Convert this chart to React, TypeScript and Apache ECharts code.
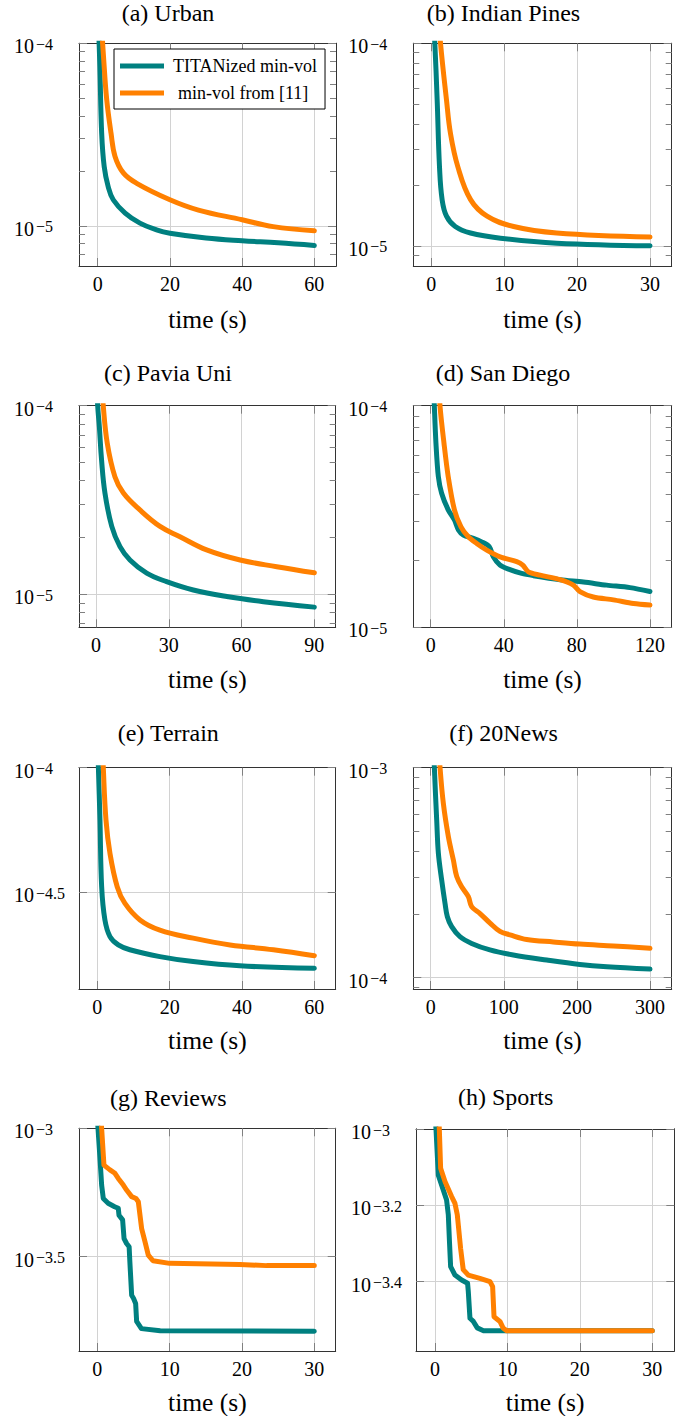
import React, { useEffect, useRef } from 'react';
import * as echarts from 'echarts';

const NAME_A = 'TITANized min-vol';
const NAME_B = 'min-vol from [11]';
const TEAL = '#008080';
const ORANGE = '#ff8000';
const FONT = 'Liberation Serif';

const titles = ['(a) Urban', '(b) Indian Pines', '(c) Pavia Uni', '(d) San Diego', '(e) Terrain', '(f) 20News', '(g) Reviews', '(h) Sports'];
const xLabel = 'time (s)';

// x tick labels per panel
const xTicksUrban = [0, 20, 40, 60];
const xTicksIndian = [0, 10, 20, 30];
const xTicksPavia = [0, 30, 60, 90];
const xTicksSanDiego = [0, 40, 80, 120];
const xTicksTerrain = [0, 20, 40, 60];
const xTicks20News = [0, 100, 200, 300];
const xTicksReviews = [0, 10, 20, 30];
const xTicksSports = [0, 10, 20, 30];

// y tick labels (exponents of 10) per panel
const yTicksUrban = [-5, -4];
const yTicksIndian = [-5, -4];
const yTicksPavia = [-5, -4];
const yTicksSanDiego = [-5, -4];
const yTicksTerrain = [-4.5, -4];
const yTicks20News = [-4, -3];
const yTicksReviews = [-3.5, -3];
const yTicksSports = [-3.4, -3.2, -3];

// series data: [time (s), objective value]
const urbanTeal = [[0.2, 1.3e-4], [0.6, 7.45e-5], [1.1, 3.21e-5], [1.8, 2.11e-5], [2.9, 1.64e-5], [4.3, 1.39e-5], [7.6, 1.175e-5], [11.7, 1.035e-5], [16.3, 9.5e-6], [20, 9.1e-6], [30, 8.57e-6], [40, 8.28e-6], [50, 8.07e-6], [60, 7.8e-6]];
const urbanOrange = [[1.0, 1.3e-4], [1.6, 8.5e-5], [2.5, 4.9e-5], [3.7, 3.21e-5], [4.8, 2.4e-5], [7.1, 1.95e-5], [10.8, 1.71e-5], [20, 1.39e-5], [27.9, 1.22e-5], [40, 1.08e-5], [48.6, 9.9e-6], [60, 9.4e-6]];

const indianTeal = [[0.3, 1.3e-4], [0.5, 1.0e-4], [0.82, 5.25e-5], [1.14, 2.46e-5], [1.5, 1.69e-5], [2.1, 1.4e-5], [3.3, 1.245e-5], [5.4, 1.156e-5], [9.5, 1.09e-5], [17.2, 1.03e-5], [30, 1.0e-5]];
const indianOrange = [[1.1, 1.3e-4], [1.28, 1.0e-4], [2.1, 5.25e-5], [2.64, 3.6e-5], [3.65, 2.46e-5], [5.4, 1.69e-5], [7.66, 1.4e-5], [11.3, 1.245e-5], [17.2, 1.156e-5], [30, 1.104e-5]];

const paviaTeal = [[0.4, 1.3e-4], [0.7, 1.0e-4], [1.4, 7.7e-5], [2.3, 5.15e-5], [3.7, 3.44e-5], [6.5, 2.29e-5], [9.9, 1.79e-5], [14, 1.52e-5], [20.9, 1.294e-5], [29.1, 1.167e-5], [40.1, 1.054e-5], [53.9, 9.73e-6], [69, 9.14e-6], [90, 8.55e-6]];
const paviaOrange = [[2.6, 1.3e-4], [3.0, 1.0e-4], [4.66, 6.31e-5], [7.8, 4.2e-5], [11.3, 3.44e-5], [18.1, 2.8e-5], [26.4, 2.29e-5], [34.6, 2.02e-5], [45.6, 1.72e-5], [59.4, 1.52e-5], [74.5, 1.4e-5], [90, 1.3e-5]];

const sanDiegoTeal = [[1.5, 1.3e-4], [2.0, 1.0e-4], [2.9, 6.76e-5], [4.2, 4.79e-5], [6.0, 4.03e-5], [9.6, 3.39e-5], [13, 3.05e-5], [15.2, 2.75e-5], [17.9, 2.61e-5], [23.4, 2.52e-5], [27.9, 2.43e-5], [32.1, 2.31e-5], [34.3, 2.08e-5], [37.9, 1.91e-5], [43.4, 1.82e-5], [49.8, 1.75e-5], [56.2, 1.71e-5], [70.8, 1.64e-5], [83.6, 1.6e-5], [96.3, 1.55e-5], [109.1, 1.51e-5], [120, 1.45e-5]];
const sanDiegoOrange = [[4.6, 1.3e-4], [5.1, 1.0e-4], [7.3, 6.76e-5], [9.6, 4.79e-5], [13, 3.39e-5], [16.6, 2.84e-5], [20.6, 2.56e-5], [25.2, 2.39e-5], [30.7, 2.23e-5], [38, 2.08e-5], [47.1, 1.98e-5], [50.4, 1.91e-5], [53.5, 1.78e-5], [59.9, 1.72e-5], [70.8, 1.64e-5], [78.1, 1.55e-5], [81.7, 1.45e-5], [89, 1.37e-5], [100, 1.33e-5], [111, 1.28e-5], [120, 1.26e-5]];

const terrainTeal = [[0.1, 1.3e-4], [0.3, 1.0e-4], [0.74, 6.17e-5], [1.2, 3.33e-5], [2.1, 2.45e-5], [3.5, 2.1e-5], [5.8, 1.945e-5], [9, 1.86e-5], [17.3, 1.746e-5], [26.5, 1.667e-5], [39.4, 1.603e-5], [60, 1.567e-5]];
const terrainOrange = [[1.4, 1.3e-4], [1.66, 1.0e-4], [2.4, 6.17e-5], [3.5, 4.53e-5], [5.5, 3.33e-5], [7.6, 2.86e-5], [11.8, 2.45e-5], [17.3, 2.23e-5], [26.5, 2.07e-5], [36.7, 1.945e-5], [48.7, 1.86e-5], [60, 1.76e-5]];

const news20Teal = [[4, 1.3e-3], [5, 1.0e-3], [8.2, 5.64e-4], [10.5, 3.91e-4], [15, 2.92e-4], [19.6, 2.26e-4], [22.8, 1.95e-4], [28.7, 1.75e-4], [40, 1.567e-4], [56, 1.455e-4], [81, 1.355e-4], [113, 1.282e-4], [158.7, 1.213e-4], [204, 1.156e-4], [241, 1.127e-4], [300, 1.099e-4]];
const news20Orange = [[11, 1.3e-3], [12.8, 1.0e-3], [17.3, 6.76e-4], [24.2, 4.69e-4], [31, 3.63e-4], [35.6, 3.03e-4], [42.4, 2.71e-4], [51.5, 2.43e-4], [56, 2.18e-4], [67.5, 2.02e-4], [81.2, 1.82e-4], [94.8, 1.66e-4], [108.5, 1.6e-4], [131.3, 1.52e-4], [167.8, 1.48e-4], [204, 1.445e-4], [250, 1.416e-4], [300, 1.38e-4]];

const reviewsTeal = [[0, 1.1e-3], [0.37, 7.64e-4], [0.6, 6.01e-4], [0.83, 5.33e-4], [1.5, 5.11e-4], [2.4, 4.95e-4], [2.9, 4.88e-4], [3.0, 4.59e-4], [3.5, 4.4e-4], [3.7, 3.72e-4], [4.05, 3.56e-4], [4.4, 3.46e-4], [4.5, 3.03e-4], [4.75, 2.24e-4], [5.0, 2.18e-4], [5.3, 2.08e-4], [5.44, 1.77e-4], [6.1, 1.66e-4], [8.7, 1.63e-4], [30, 1.62e-4]];
const reviewsOrange = [[0.5, 1.1e-3], [0.6, 1.0e-3], [0.92, 7.19e-4], [1.75, 6.89e-4], [2.44, 6.68e-4], [2.9, 6.38e-4], [3.6, 6.01e-4], [4.05, 5.75e-4], [4.75, 5.42e-4], [5.35, 5.33e-4], [5.67, 5.18e-4], [6.13, 4.07e-4], [6.6, 3.61e-4], [7.05, 3.21e-4], [7.7, 3.05e-4], [10, 2.98e-4], [19.7, 2.95e-4], [23.4, 2.92e-4], [30, 2.92e-4]];

const sportsTeal = [[0, 1.1e-3], [0.14, 1.0e-3], [0.46, 7.57e-4], [1.06, 7.0e-4], [1.6, 6.52e-4], [1.84, 5.96e-4], [2.0, 5.07e-4], [2.16, 4.36e-4], [2.76, 4.14e-4], [3.68, 4.02e-4], [4.5, 3.94e-4], [4.6, 3.75e-4], [4.83, 3.19e-4], [5.3, 3.13e-4], [5.84, 3.01e-4], [6.7, 2.96e-4], [9.9, 2.96e-4], [30, 2.96e-4]];
const sportsOrange = [[0.5, 1.1e-3], [0.6, 1.0e-3], [0.78, 7.89e-4], [1.38, 7.28e-4], [2.3, 6.65e-4], [2.76, 6.38e-4], [3.08, 5.96e-4], [3.54, 4.86e-4], [3.9, 4.28e-4], [4.6, 4.14e-4], [6.2, 4.06e-4], [7.6, 3.98e-4], [7.96, 3.86e-4], [8.15, 3.22e-4], [8.97, 3.13e-4], [9.4, 3.01e-4], [9.9, 2.96e-4], [30, 2.96e-4]];

const panelData = [
  { title: titles[0], xTicks: xTicksUrban, yTicks: yTicksUrban, teal: urbanTeal, orange: urbanOrange },
  { title: titles[1], xTicks: xTicksIndian, yTicks: yTicksIndian, teal: indianTeal, orange: indianOrange },
  { title: titles[2], xTicks: xTicksPavia, yTicks: yTicksPavia, teal: paviaTeal, orange: paviaOrange },
  { title: titles[3], xTicks: xTicksSanDiego, yTicks: yTicksSanDiego, teal: sanDiegoTeal, orange: sanDiegoOrange },
  { title: titles[4], xTicks: xTicksTerrain, yTicks: yTicksTerrain, teal: terrainTeal, orange: terrainOrange },
  { title: titles[5], xTicks: xTicks20News, yTicks: yTicks20News, teal: news20Teal, orange: news20Orange },
  { title: titles[6], xTicks: xTicksReviews, yTicks: yTicksReviews, teal: reviewsTeal, orange: reviewsOrange },
  { title: titles[7], xTicks: xTicksSports, yTicks: yTicksSports, teal: sportsTeal, orange: sportsOrange },
];

// layout (positions, ranges)
const layouts = [
  { left: 79, top: 43.3, width: 257, height: 222.7, xMin: -5.18, xMax: 66, yMin: -5.22, yMax: -4, tx: 168, ty: 13.3, minor: true, smooth: 0.4, gap: 40 },
  { left: 413.3, top: 43.3, width: 258.4, height: 222.7, xMin: -2.45, xMax: 32.97, yMin: -5.1, yMax: -4, tx: 503.5, ty: 13.3, minor: true, smooth: 0.4, gap: 40 },
  { left: 79, top: 405.7, width: 256.7, height: 221.6, xMin: -7.0, xMax: 98.8, yMin: -5.175, yMax: -4, tx: 168, ty: 373, minor: true, smooth: 0.4, gap: 39 },
  { left: 413.3, top: 405.7, width: 258.4, height: 221.6, xMin: -9.5, xMax: 131.9, yMin: -5, yMax: -4, tx: 503, ty: 373, minor: true, smooth: 0.3, gap: 39 },
  { left: 79, top: 767.7, width: 256.7, height: 221.3, xMin: -5.06, xMax: 65.9, yMin: -4.888, yMax: -4, tx: 168.3, ty: 733, minor: false, smooth: 0.4, gap: 38 },
  { left: 413.3, top: 767.7, width: 258.4, height: 221.3, xMin: -23.8, xMax: 329.7, yMin: -4.054, yMax: -3, tx: 503.5, ty: 733, minor: true, smooth: 0.35, gap: 38 },
  { left: 79, top: 1128.3, width: 256.7, height: 222.7, xMin: -2.53, xMax: 32.96, yMin: -3.867, yMax: -3, tx: 168.3, ty: 1097.5, minor: false, smooth: 0, gap: 38 },
  { left: 416, top: 1129, width: 258.3, height: 222, xMin: -2.62, xMax: 33.04, yMin: -3.582, yMax: -3, tx: 505.7, ty: 1097, minor: false, smooth: 0, gap: 38 },
];

const BORDER = '#333333';
const TICK = '#808080';
const GRIDC = '#d2d2d2';

function minorTicks(min: number, max: number): number[] {
  const out: number[] = [];
  for (let d = Math.floor(min); d < Math.ceil(max); d++) {
    for (let k = 2; k <= 9; k++) {
      const v = d + Math.log10(k);
      if (v > min + 0.004 && v < max - 0.004) out.push(v);
    }
  }
  return out;
}

function expText(v: number): string {
  const a = Math.round(Math.abs(v) * 10) / 10;
  return (v < 0 ? '\u2212' : '') + String(a);
}

function buildOption() {
  const grid: any[] = [];
  const xAxis: any[] = [];
  const yAxis: any[] = [];
  const series: any[] = [];
  const graphic: any[] = [];

  panelData.forEach((p, i) => {
    const L = layouts[i];
    grid.push({ left: L.left, top: L.top, width: L.width, height: L.height, containLabel: false, outerBoundsMode: 'none', show: false });
    const gi = i;
    const borderLine = { show: true, onZero: false, lineStyle: { color: BORDER, width: 1 } };
    xAxis.push({
      type: 'value', gridIndex: gi, position: 'bottom', min: L.xMin, max: L.xMax,
      axisLine: borderLine,
      axisTick: { show: true, inside: true, length: 8, customValues: p.xTicks, lineStyle: { color: TICK, width: 1 } },
      axisLabel: { show: true, customValues: p.xTicks, margin: 8, fontFamily: FONT, fontSize: 20, color: '#000' },
      splitLine: { show: true, lineStyle: { color: GRIDC, width: 1 } },
      name: xLabel, nameLocation: 'middle', nameGap: L.gap,
      nameTextStyle: { fontFamily: FONT, fontSize: 25.5, color: '#000' },
    });
    xAxis.push({
      type: 'value', gridIndex: gi, position: 'top', min: L.xMin, max: L.xMax,
      axisLine: borderLine,
      axisTick: { show: true, inside: true, length: 8, customValues: p.xTicks, lineStyle: { color: TICK, width: 1 } },
      axisLabel: { show: false },
      splitLine: { show: false },
    });
    const minors = L.minor ? minorTicks(L.yMin, L.yMax) : [];
    const yBase = { type: 'value', gridIndex: gi, min: L.yMin, max: L.yMax, offset: 0 };
    yAxis.push({
      ...yBase, position: 'left',
      axisLine: borderLine,
      axisTick: { show: true, inside: true, length: 8, customValues: p.yTicks, lineStyle: { color: TICK, width: 1 } },
      axisLabel: {
        show: true, customValues: p.yTicks, margin: 65, align: 'left', verticalAlign: 'middle', padding: [6, 0, 0, 0],
        formatter: (v: number) => `{b|10}{e|${expText(v)}}`,
        rich: {
          b: { fontFamily: FONT, fontSize: 20, color: '#000', lineHeight: 20, verticalAlign: 'bottom' },
          e: { fontFamily: FONT, fontSize: 16, color: '#000', lineHeight: 15, verticalAlign: 'top', padding: [0, 0, 0, 2] },
        },
      },
      splitLine: { show: true, lineStyle: { color: GRIDC, width: 1 } },
    });
    yAxis.push({
      ...yBase, position: 'left',
      axisLine: borderLine,
      axisTick: { show: minors.length > 0, inside: true, length: 6, customValues: minors.length ? minors : [L.yMax], lineStyle: { color: TICK, width: 1 } },
      axisLabel: { show: false },
      splitLine: { show: false },
    });
    yAxis.push({
      ...yBase, position: 'right',
      axisLine: borderLine,
      axisTick: { show: true, inside: true, length: 8, customValues: p.yTicks, lineStyle: { color: TICK, width: 1 } },
      axisLabel: { show: false },
      splitLine: { show: false },
    });
    yAxis.push({
      ...yBase, position: 'right',
      axisLine: borderLine,
      axisTick: { show: minors.length > 0, inside: true, length: 6, customValues: minors.length ? minors : [L.yMax], lineStyle: { color: TICK, width: 1 } },
      axisLabel: { show: false },
      splitLine: { show: false },
    });

    const mk = (name: string, data: number[][], color: string, z: number) => ({
      type: 'line', name, xAxisIndex: 2 * i, yAxisIndex: 4 * i,
      data: data.map(([t, v]) => [t, Math.log10(v)]),
      showSymbol: false, symbol: 'none', clip: true, z,
      smooth: L.smooth || false,
      lineStyle: { color, width: 5, cap: 'round', join: 'round' },
      itemStyle: { color },
      emphasis: { disabled: true },
    });
    series.push(mk(NAME_A, p.teal, TEAL, 3));
    series.push(mk(NAME_B, p.orange, ORANGE, 4));

    graphic.push({
      type: 'text', x: L.tx, y: L.ty,
      style: { text: p.title, fontFamily: FONT, fontSize: 24, fill: '#000', textAlign: 'center', textVerticalAlign: 'middle', align: 'center', verticalAlign: 'middle' },
    });
  });

  return {
    animation: false,
    backgroundColor: '#ffffff',
    grid, xAxis, yAxis, series, graphic,
    legend: {
      show: true, left: 114, top: 49, orient: 'vertical',
      itemWidth: 44, itemHeight: 5, icon: 'rect', itemGap: 7,
      padding: [7, 8, 6, 6],
      borderColor: '#000', borderWidth: 1, backgroundColor: '#fff',
      data: [NAME_A, NAME_B],
      selectedMode: false,
      formatter: (n: string) => (n === NAME_B ? `{p|${n}}` : `{a|${n}}`),
      textStyle: {
        fontFamily: FONT, fontSize: 18, color: '#000', lineHeight: 20,
        rich: {
          a: { fontFamily: FONT, fontSize: 18, color: '#000', lineHeight: 20, padding: [0, 0, 0, 4] },
          p: { fontFamily: FONT, fontSize: 18, color: '#000', lineHeight: 20, padding: [0, 0, 0, 9] },
        },
      },
    },
  };
}

export default function App() {
  const ref = useRef<HTMLDivElement>(null);
  useEffect(() => {
    if (!ref.current) return;
    const chart = echarts.init(ref.current, null, { renderer: 'svg', width: 681, height: 1416 });
    chart.setOption(buildOption() as any);
    return () => chart.dispose();
  }, []);
  return (
    <div
      ref={ref}
      style={{ position: 'fixed', left: 0, top: 0, width: 681, height: 1416, background: '#fff' }}
    />
  );
}
